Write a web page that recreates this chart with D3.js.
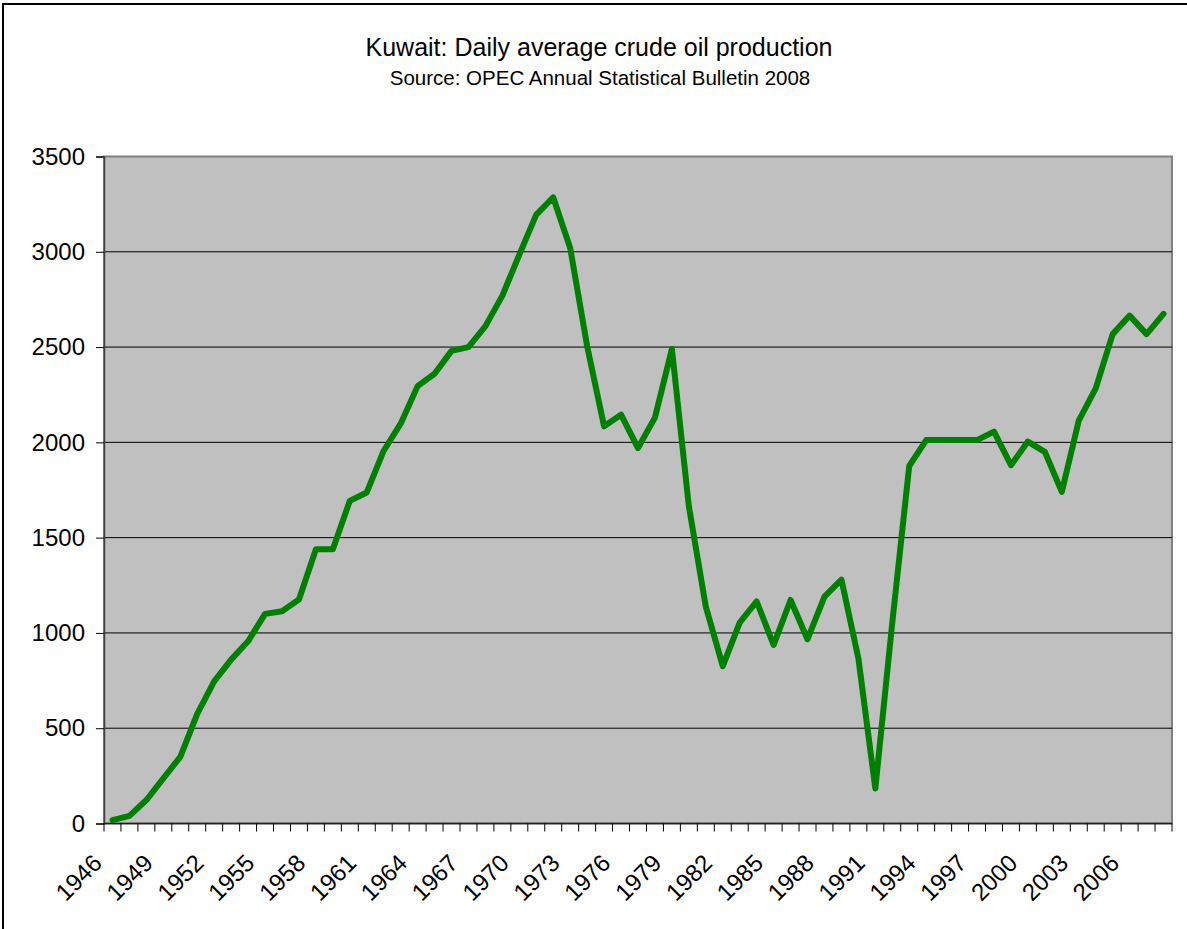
<!DOCTYPE html>
<html>
<head>
<meta charset="utf-8">
<script src="https://cdn.jsdelivr.net/npm/d3@7"></script>
<style>
  body { margin: 0; background: #fff; }
  text { font-family: "Liberation Sans", Arial, sans-serif; fill: #000; }
</style>
</head>
<body>
<svg id="chart" width="1187" height="929"></svg>
<script>
// categories (years) and series values, thousand barrels per day
var years = [1946, 1947, 1948, 1949, 1950, 1951, 1952, 1953, 1954, 1955,
    1956, 1957, 1958, 1959, 1960, 1961, 1962, 1963, 1964, 1965,
    1966, 1967, 1968, 1969, 1970, 1971, 1972, 1973, 1974, 1975,
    1976, 1977, 1978, 1979, 1980, 1981, 1982, 1983, 1984, 1985,
    1986, 1987, 1988, 1989, 1990, 1991, 1992, 1993, 1994, 1995,
    1996, 1997, 1998, 1999, 2000, 2001, 2002, 2003, 2004, 2005,
    2006, 2007, 2008]
var production = [18, 40, 123, 237, 350, 575, 746, 860, 956, 1100,
    1114, 1175, 1439, 1439, 1693, 1737, 1956, 2098, 2295, 2360,
    2480, 2500, 2610, 2770, 2985, 3195, 3285, 3020, 2505, 2084,
    2145, 1970, 2130, 2490, 1665, 1138, 826, 1054, 1165, 937,
    1173, 967, 1190, 1280, 866, 184, 1055, 1876, 2012, 2012,
    2012, 2012, 2056, 1880, 2004, 1950, 1740, 2114, 2283, 2568,
    2665, 2568, 2674]
var yTicks = [0, 500, 1000, 1500, 2000, 2500, 3000, 3500]
var xLabels = [1946, 1949, 1952, 1955, 1958, 1961, 1964, 1967, 1970, 1973,
    1976, 1979, 1982, 1985, 1988, 1991, 1994, 1997, 2000, 2003, 2006]

var title = "Kuwait: Daily average crude oil production"
var subtitle = "Source: OPEC Annual Statistical Bulletin 2008"

var svg = d3.select("#chart")
var plotLeft = 104, plotRight = 1172, plotTop = 156.5, plotBottom = 823.5

// outer chart frame
svg.append("rect")
    .attr("x", 3).attr("y", 4)
    .attr("width", 1220).attr("height", 960)
    .attr("fill", "#fff")
    .attr("stroke", "#000")
    .attr("stroke-width", 2)

var x = d3.scaleBand()
    .domain(years)
    .range([plotLeft, plotRight])
    .padding(0)

var y = d3.scaleLinear()
    .domain([0, 3500])
    .range([plotBottom, plotTop])

// plot area
svg.append("rect")
    .attr("x", plotLeft).attr("y", plotTop)
    .attr("width", plotRight - plotLeft).attr("height", plotBottom - plotTop)
    .attr("fill", "#c0c0c0")
    .attr("stroke", "#808080")
    .attr("stroke-width", 2)

// gridlines
svg.append("g")
    .selectAll("line")
    .data(yTicks.filter(function(d) { return d > 0 && d < 3500 }))
    .enter()
    .append("line")
    .attr("x1", plotLeft).attr("x2", plotRight)
    .attr("y1", function(d) { return y(d) })
    .attr("y2", function(d) { return y(d) })
    .attr("stroke", "#000")
    .attr("stroke-width", 1)

// y axis
var yAxis = svg.append("g")
    .attr("transform", "translate(" + plotLeft + ",0)")
    .call(d3.axisLeft(y)
        .tickValues(yTicks)
        .tickFormat(d3.format("d"))
        .tickSize(8)
        .tickPadding(11))
yAxis.select(".domain").attr("stroke", "#404040").attr("stroke-width", 1.5)
yAxis.selectAll(".tick line").attr("stroke", "#000")
yAxis.selectAll("text")
    .style("font-size", "24px")
    .style("font-family", "'Liberation Sans', Arial, sans-serif")

// x axis: ticks at category boundaries
var bounds = years.map(function(d) { return x(d) }).concat([plotRight])
var xAxis = svg.append("g")
xAxis.append("line")
    .attr("x1", plotLeft).attr("x2", plotRight)
    .attr("y1", plotBottom).attr("y2", plotBottom)
    .attr("stroke", "#202020")
    .attr("stroke-width", 1.5)
xAxis.selectAll("line.tick")
    .data(bounds)
    .enter()
    .append("line")
    .attr("class", "tick")
    .attr("x1", function(d) { return d })
    .attr("x2", function(d) { return d })
    .attr("y1", plotBottom).attr("y2", plotBottom + 8)
    .attr("stroke", "#000")

xAxis.selectAll("text")
    .data(xLabels)
    .enter()
    .append("text")
    .attr("text-anchor", "end")
    .attr("transform", function(d) {
        var cx = x(d) + x.bandwidth() / 2 - 9
        return "translate(" + cx + "," + (plotBottom + 41) + ") rotate(-45)"
    })
    .style("font-size", "24px")
    .text(function(d) { return d })

// series line
var line = d3.line()
    .x(function(d, i) { return x(years[i]) + x.bandwidth() / 2 })
    .y(function(d) { return y(d) })

svg.append("path")
    .datum(production)
    .attr("d", line)
    .attr("fill", "none")
    .attr("stroke", "#008000")
    .attr("stroke-width", 6)
    .attr("stroke-linejoin", "round")
    .attr("stroke-linecap", "round")

// titles
svg.append("text")
    .attr("x", 599).attr("y", 56)
    .attr("text-anchor", "middle")
    .style("font-size", "25px")
    .text(title)

svg.append("text")
    .attr("x", 600).attr("y", 85)
    .attr("text-anchor", "middle")
    .style("font-size", "20.5px")
    .text(subtitle)
</script>
</body>
</html>
